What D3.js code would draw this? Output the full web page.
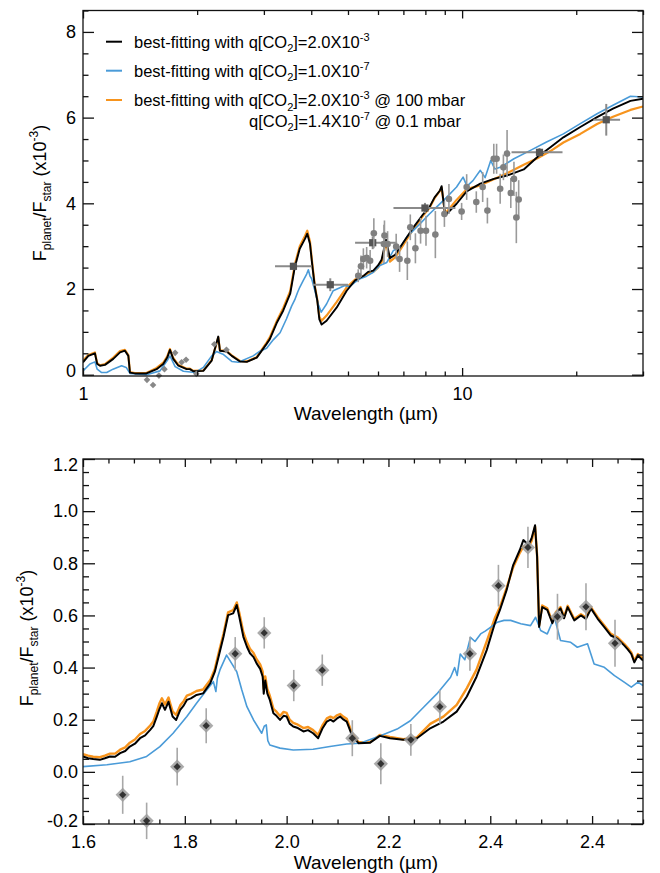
<!DOCTYPE html>
<html>
<head>
<meta charset="utf-8">
<script src="https://cdn.jsdelivr.net/npm/d3@7"></script>
<style>
  body { margin: 0; background: #fff; }
  svg text { font-family: "Liberation Sans", Arial, Helvetica, sans-serif; fill: #000; }
</style>
</head>
<body>
<svg id="chart" width="660" height="873"></svg>
<script>
// ---------- Upper panel: full 1–30 µm emission spectrum ----------
const topBlackWl = [1.0, 1.033, 1.075, 1.09, 1.109, 1.143, 1.202, 1.252, 1.29, 1.317, 1.33, 1.37, 1.47, 1.564, 1.628, 1.668, 1.696, 1.73, 1.785, 1.877, 1.914, 1.954, 2.077, 2.185, 2.274, 2.297, 2.394, 2.468, 2.595, 2.704, 2.873, 3.05, 3.11, 3.24, 3.375, 3.52, 3.62, 3.73, 3.85, 3.905, 3.97, 4.03, 4.09, 4.15, 4.2, 4.26, 4.39, 4.67, 4.96, 5.22, 5.5, 5.65, 5.83, 6.0, 6.13, 6.30, 6.45, 6.66, 6.87, 7.44, 7.9, 8.2, 8.46, 8.74, 8.83, 9.0, 9.1, 9.67, 10.28, 11.17, 12.12, 13.14, 14.54, 15.8, 17.1, 18.5, 20.5, 22.7, 25.0, 27.8, 30];
const topBlackFlux = [0.29, 0.44, 0.50, 0.25, 0.21, 0.23, 0.37, 0.52, 0.56, 0.44, 0.05, 0.03, 0.03, 0.13, 0.25, 0.40, 0.58, 0.37, 0.21, 0.13, 0.13, 0.08, 0.09, 0.33, 0.89, 0.56, 0.54, 0.44, 0.31, 0.30, 0.40, 0.72, 0.83, 1.20, 1.50, 1.89, 2.51, 2.94, 3.17, 3.29, 3.05, 2.51, 2.04, 1.73, 1.30, 1.17, 1.26, 1.57, 1.96, 2.20, 2.31, 2.40, 2.43, 2.55, 2.68, 3.15, 2.72, 2.80, 2.98, 3.44, 3.75, 3.91, 4.14, 4.30, 4.40, 3.79, 3.75, 3.99, 4.28, 4.46, 4.57, 4.65, 4.79, 5.08, 5.31, 5.54, 5.78, 6.01, 6.21, 6.39, 6.44];

const topOrangeWl = topBlackWl;
const topOrangeFlux = [0.33, 0.46, 0.52, 0.27, 0.22, 0.25, 0.40, 0.55, 0.58, 0.46, 0.06, 0.04, 0.04, 0.16, 0.28, 0.43, 0.60, 0.39, 0.23, 0.14, 0.14, 0.09, 0.10, 0.34, 0.87, 0.57, 0.55, 0.45, 0.32, 0.31, 0.41, 0.75, 0.87, 1.24, 1.56, 1.95, 2.57, 3.00, 3.24, 3.36, 3.10, 2.55, 2.06, 1.75, 1.36, 1.26, 1.38, 1.70, 2.04, 2.22, 2.30, 2.37, 2.40, 2.50, 2.62, 3.10, 2.64, 2.74, 2.92, 3.40, 3.72, 3.89, 4.12, 4.29, 4.36, 3.81, 3.80, 4.08, 4.33, 4.42, 4.56, 4.70, 4.90, 5.05, 5.22, 5.42, 5.62, 5.85, 6.02, 6.18, 6.26];

const topBlueWl = [1.0, 1.043, 1.075, 1.09, 1.12, 1.155, 1.2, 1.264, 1.30, 1.33, 1.47, 1.596, 1.668, 1.696, 1.75, 1.84, 1.974, 2.077, 2.185, 2.25, 2.34, 2.468, 2.57, 2.81, 2.93, 3.05, 3.18, 3.31, 3.44, 3.55, 3.62, 3.68, 3.73, 3.80, 3.89, 3.93, 3.97, 4.01, 4.09, 4.17, 4.25, 4.39, 4.57, 4.76, 4.9, 5.06, 5.2, 5.38, 5.6, 5.83, 6.07, 6.33, 6.59, 6.87, 7.14, 7.74, 8.2, 8.56, 9.1, 9.67, 10.06, 10.3, 10.68, 11.17, 11.5, 11.9, 12.2, 12.6, 13.7, 15.1, 16.7, 18.5, 20.5, 22.7, 25.0, 27.8, 30];
const topBlueFlux = [0.09, 0.25, 0.30, 0.13, 0.05, 0.05, 0.13, 0.21, 0.17, 0.03, 0.00, 0.09, 0.33, 0.44, 0.19, 0.08, 0.05, 0.17, 0.44, 0.54, 0.48, 0.31, 0.29, 0.44, 0.55, 0.62, 0.82, 0.98, 1.30, 1.60, 1.75, 1.92, 2.04, 2.18, 2.35, 2.45, 2.30, 2.24, 1.96, 1.65, 1.46, 1.65, 1.96, 2.03, 2.08, 2.06, 2.15, 2.24, 2.30, 2.39, 2.55, 2.62, 2.90, 2.97, 3.21, 3.52, 3.75, 3.91, 4.14, 4.38, 4.61, 4.40, 4.53, 4.77, 4.60, 5.00, 4.80, 4.84, 5.04, 5.23, 5.43, 5.62, 5.86, 6.09, 6.29, 6.50, 6.48];

// IRS spectrum points: wavelength, flux, 1-sigma error
const irsWl   = [5.32, 5.41, 5.49, 5.60, 5.72, 5.85, 6.22, 6.24, 6.36, 6.70, 6.84, 7.17, 7.30, 7.53, 7.77, 8.03, 8.50, 8.98, 9.23, 9.97, 10.28, 10.9, 11.33, 11.66, 12.12, 12.33, 12.6, 12.85, 13.14, 13.44, 13.7, 13.9, 14.1];
const irsFlux = [2.31, 2.53, 2.70, 2.73, 2.66, 3.30, 3.05, 3.25, 3.05, 2.99, 2.70, 2.66, 3.44, 2.95, 3.36, 3.36, 3.27, 3.75, 4.10, 3.81, 4.38, 4.03, 4.38, 3.83, 5.04, 5.04, 4.34, 4.84, 5.16, 4.24, 4.57, 3.67, 4.09];
const irsErr  = [0.15, 0.25, 0.25, 0.25, 0.25, 0.35, 0.45, 0.35, 0.30, 0.30, 0.30, 0.45, 0.30, 0.35, 0.30, 0.35, 0.55, 0.30, 0.35, 0.20, 0.30, 0.25, 0.35, 0.30, 0.35, 0.35, 0.35, 0.30, 0.55, 0.35, 0.40, 0.60, 0.45];

// Broadband photometry: centre, flux, band edges, error
const photWl   = [3.59, 4.49, 5.81, 7.98, 16.0, 24.0];
const photFlux = [2.53, 2.10, 3.08, 3.89, 5.19, 5.95];
const photLo   = [3.21, 4.04, 5.22, 6.59, 13.5, 22.2];
const photHi   = [4.01, 5.00, 6.74, 9.60, 18.4, 26.1];
const photErr  = [0.08, 0.15, 0.15, 0.12, 0.10, 0.37];

// Near-infrared spectrophotometry as placed on the upper panel
const nirTopWl   = [1.475, 1.53, 1.586, 1.64, 1.75, 1.82, 1.87, 1.99, 2.22, 2.39];
const nirTopFlux = [-0.12, -0.24, -0.02, 0.13, 0.51, 0.29, 0.35, 0.02, 0.71, 0.58];

const topXMajor = [1, 10];
const topXLabels = ["1", "10"];
const topXMinor = [2, 3, 4, 5, 6, 7, 8, 9, 20, 30];
const topYMajor = [0, 2, 4, 6, 8];
const topYMinor = [0.5, 1, 1.5, 2.5, 3, 3.5, 4.5, 5, 5.5, 6.5, 7, 7.5, 8.5];

// ---------- Lower panel: near-infrared detail ----------
const botBlackWl = [1.600, 1.610, 1.620, 1.633, 1.643, 1.653, 1.663, 1.673, 1.683, 1.692, 1.702, 1.712, 1.722, 1.732, 1.738, 1.745, 1.750, 1.755, 1.761, 1.768, 1.772, 1.776, 1.783, 1.791, 1.798, 1.804, 1.812, 1.823, 1.836, 1.850, 1.859, 1.868, 1.876, 1.885, 1.895, 1.902, 1.907, 1.915, 1.922, 1.928, 1.935, 1.941, 1.948, 1.953, 1.955, 1.958, 1.962, 1.967, 1.974, 1.980, 1.987, 1.994, 2.000, 2.006, 2.013, 2.022, 2.033, 2.042, 2.052, 2.062, 2.070, 2.079, 2.086, 2.092, 2.099, 2.105, 2.112, 2.118, 2.128, 2.141, 2.164, 2.183, 2.203, 2.229, 2.256, 2.282, 2.308, 2.334, 2.354, 2.373, 2.393, 2.409, 2.419, 2.432, 2.445, 2.458, 2.465, 2.475, 2.481, 2.488, 2.492, 2.496, 2.502, 2.512, 2.522, 2.529, 2.538, 2.545, 2.552, 2.565, 2.578, 2.588, 2.598, 2.611, 2.624, 2.637, 2.650, 2.663, 2.670, 2.677, 2.683, 2.690, 2.700];
const botBlackFlux = [0.059, 0.052, 0.049, 0.046, 0.052, 0.059, 0.058, 0.072, 0.080, 0.097, 0.108, 0.129, 0.140, 0.161, 0.175, 0.212, 0.240, 0.263, 0.238, 0.269, 0.240, 0.212, 0.199, 0.238, 0.255, 0.276, 0.282, 0.295, 0.301, 0.340, 0.384, 0.455, 0.518, 0.601, 0.608, 0.640, 0.595, 0.518, 0.480, 0.455, 0.440, 0.416, 0.395, 0.365, 0.300, 0.350, 0.301, 0.276, 0.225, 0.215, 0.199, 0.215, 0.212, 0.185, 0.174, 0.168, 0.155, 0.160, 0.148, 0.129, 0.165, 0.193, 0.200, 0.193, 0.205, 0.212, 0.200, 0.193, 0.142, 0.110, 0.112, 0.138, 0.129, 0.123, 0.129, 0.167, 0.193, 0.231, 0.289, 0.365, 0.467, 0.570, 0.621, 0.697, 0.793, 0.851, 0.889, 0.870, 0.895, 0.946, 0.825, 0.556, 0.632, 0.621, 0.570, 0.608, 0.627, 0.589, 0.632, 0.581, 0.600, 0.587, 0.626, 0.587, 0.555, 0.523, 0.510, 0.485, 0.470, 0.452, 0.420, 0.446, 0.427];

const botOrangeWl = botBlackWl;
const botOrangeFlux = [0.068, 0.062, 0.058, 0.056, 0.062, 0.070, 0.070, 0.085, 0.094, 0.112, 0.124, 0.145, 0.157, 0.178, 0.193, 0.232, 0.262, 0.282, 0.258, 0.285, 0.258, 0.232, 0.218, 0.255, 0.272, 0.292, 0.298, 0.310, 0.316, 0.352, 0.395, 0.468, 0.530, 0.612, 0.620, 0.650, 0.610, 0.535, 0.497, 0.472, 0.456, 0.432, 0.412, 0.384, 0.318, 0.366, 0.318, 0.292, 0.242, 0.231, 0.214, 0.230, 0.226, 0.200, 0.188, 0.181, 0.168, 0.172, 0.160, 0.142, 0.177, 0.205, 0.212, 0.206, 0.217, 0.222, 0.211, 0.204, 0.150, 0.114, 0.114, 0.142, 0.134, 0.125, 0.132, 0.184, 0.212, 0.257, 0.321, 0.392, 0.500, 0.590, 0.632, 0.705, 0.785, 0.840, 0.865, 0.862, 0.885, 0.940, 0.830, 0.562, 0.638, 0.627, 0.576, 0.613, 0.632, 0.594, 0.637, 0.586, 0.605, 0.592, 0.631, 0.593, 0.561, 0.529, 0.516, 0.491, 0.476, 0.458, 0.426, 0.452, 0.433];

const botBlueWl = [1.600, 1.647, 1.692, 1.725, 1.751, 1.777, 1.804, 1.823, 1.843, 1.856, 1.861, 1.864, 1.869, 1.882, 1.892, 1.902, 1.912, 1.922, 1.935, 1.951, 1.956, 1.960, 1.963, 1.967, 1.987, 2.013, 2.052, 2.085, 2.118, 2.144, 2.183, 2.217, 2.243, 2.269, 2.295, 2.322, 2.330, 2.335, 2.341, 2.350, 2.361, 2.370, 2.381, 2.390, 2.401, 2.414, 2.427, 2.440, 2.460, 2.479, 2.489, 2.499, 2.512, 2.526, 2.538, 2.558, 2.571, 2.591, 2.604, 2.624, 2.644, 2.663, 2.677, 2.690, 2.700];
const botBlueFlux = [0.020, 0.027, 0.039, 0.059, 0.097, 0.148, 0.212, 0.263, 0.314, 0.346, 0.308, 0.360, 0.391, 0.448, 0.416, 0.384, 0.314, 0.250, 0.199, 0.148, 0.175, 0.180, 0.120, 0.103, 0.091, 0.084, 0.087, 0.097, 0.107, 0.110, 0.138, 0.164, 0.196, 0.248, 0.299, 0.363, 0.400, 0.370, 0.452, 0.430, 0.516, 0.500, 0.529, 0.540, 0.555, 0.574, 0.581, 0.581, 0.568, 0.561, 0.593, 0.542, 0.529, 0.593, 0.504, 0.497, 0.478, 0.491, 0.414, 0.401, 0.369, 0.344, 0.325, 0.344, 0.331];

const nirWl   = [1.678, 1.725, 1.785, 1.842, 1.899, 1.956, 2.014, 2.070, 2.129, 2.185, 2.244, 2.301, 2.360, 2.416, 2.474, 2.532, 2.588, 2.645];
const nirFlux = [-0.088, -0.188, 0.020, 0.177, 0.453, 0.533, 0.331, 0.390, 0.129, 0.031, 0.123, 0.250, 0.453, 0.714, 0.861, 0.595, 0.633, 0.493];
const nirErr  = [0.073, 0.070, 0.072, 0.067, 0.064, 0.060, 0.060, 0.060, 0.069, 0.079, 0.061, 0.065, 0.065, 0.080, 0.079, 0.088, 0.090, 0.090];

const botXMajor = [1.6, 1.8, 2.0, 2.2, 2.4, 2.6];
const botXLabels = ["1.6", "1.8", "2.0", "2.2", "2.4", "2.4"];
const botYMajor = [-0.2, 0, 0.2, 0.4, 0.6, 0.8, 1.0, 1.2];

// ---------- Series styling ----------
const COLOR_BLACK = "#000000";
const COLOR_BLUE = "#4a9bd8";
const COLOR_ORANGE = "#f7941d";

const legendRows = [
  { color: COLOR_BLACK, parts: [["best-fitting with q[CO", ""], ["2", "sub"], ["]=2.0X10", ""], ["-3", "sup"]] },
  { color: COLOR_BLUE, parts: [["best-fitting with q[CO", ""], ["2", "sub"], ["]=1.0X10", ""], ["-7", "sup"]] },
  { color: COLOR_ORANGE, parts: [["best-fitting with q[CO", ""], ["2", "sub"], ["]=2.0X10", ""], ["-3", "sup"], [" @ 100 mbar", ""]] },
  { color: null, parts: [["q[CO", ""], ["2", "sub"], ["]=1.4X10", ""], ["-7", "sup"], [" @ 0.1 mbar", ""]] }
];

const svg = d3.select("#chart");

// Writes a sequence of [text, role] runs into a text element, with sub/superscripts
function richText(sel, parts, size) {
  const small = Math.round(size * 0.66);
  let shift = 0;
  parts.forEach(([str, role]) => {
    const target = role === "sub" ? size * 0.28 : role === "sup" ? -size * 0.42 : 0;
    sel.append("tspan")
      .attr("dy", target - shift)
      .attr("font-size", role ? small : size)
      .text(str);
    shift = target;
  });
}

function drawPanel(p) {
  const g = svg.append("g");
  const [x0, x1] = p.x.range();
  const [y0, y1] = p.y.range(); // y0 = bottom, y1 = top
  const clipId = "clip-" + p.id;
  svg.append("clipPath").attr("id", clipId)
    .append("rect").attr("x", x0).attr("y", y1).attr("width", x1 - x0).attr("height", y0 - y1);

  const line = d3.line().x(d => p.x(d[0])).y(d => p.y(d[1]));
  const curves = g.append("g").attr("clip-path", `url(#${clipId})`);
  p.series.forEach(s => {
    curves.append("path")
      .datum(d3.zip(s.wl, s.flux))
      .attr("d", line)
      .attr("fill", "none")
      .attr("stroke", s.color)
      .attr("stroke-width", s.width)
      .attr("stroke-linejoin", "round");
  });

  p.marks(g);

  // Frame and inward ticks on all four sides
  g.append("rect").attr("x", x0).attr("y", y1).attr("width", x1 - x0).attr("height", y0 - y1)
    .attr("fill", "none").attr("stroke", "#111").attr("stroke-width", 1.3);

  const styleAxis = sel => {
    sel.select(".domain").remove();
    sel.selectAll(".tick line").attr("stroke", "#111").attr("stroke-width", 1.3);
    sel.selectAll(".tick text").attr("font-size", 18).attr("fill", "#000")
      .attr("font-family", '"Liberation Sans", Arial, Helvetica, sans-serif');
  };

  g.append("g").attr("transform", `translate(0,${y0})`)
    .call(d3.axisBottom(p.x).tickValues(p.xMajor).tickSize(-p.xTickMajor)
      .tickPadding(p.xPad).tickFormat((d, i) => p.xLabels[i]))
    .call(styleAxis);
  g.append("g").attr("transform", `translate(0,${y0})`)
    .call(d3.axisBottom(p.x).tickValues(p.xMinor).tickSize(-p.xTickMinor).tickFormat(""))
    .call(styleAxis);
  g.append("g").attr("transform", `translate(0,${y1})`)
    .call(d3.axisTop(p.x).tickValues(p.xMajor).tickSize(-p.xTickMajor).tickFormat(""))
    .call(styleAxis);
  g.append("g").attr("transform", `translate(0,${y1})`)
    .call(d3.axisTop(p.x).tickValues(p.xMinor).tickSize(-p.xTickMinor).tickFormat(""))
    .call(styleAxis);

  const yl = g.append("g").attr("transform", `translate(${x0},0)`)
    .call(d3.axisLeft(p.y).tickValues(p.yMajor).tickSize(-p.yTickMajor)
      .tickPadding(p.yPad).tickFormat(p.yFormat))
    .call(styleAxis);
  yl.selectAll(".tick text").attr("dy", d => (0.32 * 18 + (p.yLabelShift[d] || 0)) + "px");
  g.append("g").attr("transform", `translate(${x0},0)`)
    .call(d3.axisLeft(p.y).tickValues(p.yMinor).tickSize(-p.yTickMinor).tickFormat(""))
    .call(styleAxis);
  g.append("g").attr("transform", `translate(${x1},0)`)
    .call(d3.axisRight(p.y).tickValues(p.yMajor).tickSize(-p.yTickMajor).tickFormat(""))
    .call(styleAxis);
  g.append("g").attr("transform", `translate(${x1},0)`)
    .call(d3.axisRight(p.y).tickValues(p.yMinor).tickSize(-p.yTickMinor).tickFormat(""))
    .call(styleAxis);

  // Axis titles
  g.append("text").attr("x", p.xTitlePos[0]).attr("y", p.xTitlePos[1])
    .attr("text-anchor", "middle").attr("font-size", 19).text("Wavelength (\u00b5m)");
  const yt = g.append("text")
    .attr("transform", `translate(${p.yTitlePos[0]},${p.yTitlePos[1]}) rotate(-90)`)
    .attr("text-anchor", "middle").attr("font-size", 18);
  richText(yt, [["F", ""], ["planet", "sub"], ["/F", ""], ["star", "sub"], [" (x10", ""], ["-3", "sup"], [")", ""]], 18);
}

// ---------- Upper panel ----------
const xTop = d3.scaleLog().domain([1, 30]).range([83, 643]);
const yTop = d3.scaleLinear().domain([-0.03, 8.5]).range([376, 10.5]);

drawPanel({
  id: "top", x: xTop, y: yTop,
  series: [
    { wl: topOrangeWl, flux: topOrangeFlux, color: COLOR_ORANGE, width: 2.2 },
    { wl: topBlueWl, flux: topBlueFlux, color: COLOR_BLUE, width: 1.6 },
    { wl: topBlackWl, flux: topBlackFlux, color: COLOR_BLACK, width: 1.9 }
  ],
  xMajor: topXMajor, xLabels: topXLabels, xMinor: topXMinor,
  yMajor: topYMajor, yMinor: topYMinor, yFormat: d => String(d),
  yLabelShift: { 0: -4 },
  xTickMajor: 8, xTickMinor: 4.5, yTickMajor: 11, yTickMinor: 5.5,
  xPad: 11, yPad: 7,
  xTitlePos: [366, 420], yTitlePos: [46, 193],
  marks: g => {
    // photometric band widths and errors
    const ph = g.append("g");
    photWl.forEach((w, i) => {
      ph.append("line").attr("x1", xTop(photLo[i])).attr("x2", xTop(photHi[i]))
        .attr("y1", yTop(photFlux[i])).attr("y2", yTop(photFlux[i]))
        .attr("stroke", "#8a8a8a").attr("stroke-width", 2);
      ph.append("line").attr("x1", xTop(w)).attr("x2", xTop(w))
        .attr("y1", yTop(photFlux[i] - photErr[i])).attr("y2", yTop(photFlux[i] + photErr[i]))
        .attr("stroke", "#8a8a8a").attr("stroke-width", 2);
    });
    // IRS error bars and points
    const irs = g.append("g");
    irsWl.forEach((w, i) => {
      irs.append("line").attr("x1", xTop(w)).attr("x2", xTop(w))
        .attr("y1", yTop(irsFlux[i] - irsErr[i])).attr("y2", yTop(irsFlux[i] + irsErr[i]))
        .attr("stroke", "#9a9a9a").attr("stroke-width", 1.6);
    });
    irsWl.forEach((w, i) => {
      irs.append("circle").attr("cx", xTop(w)).attr("cy", yTop(irsFlux[i])).attr("r", 3.3)
        .attr("fill", "#808080");
    });
    photWl.forEach((w, i) => {
      ph.append("rect").attr("x", xTop(w) - 3.6).attr("y", yTop(photFlux[i]) - 3.6)
        .attr("width", 7.2).attr("height", 7.2).attr("fill", "#555");
    });
    // near-IR points as small diamonds
    const sym = d3.symbol().type(d3.symbolDiamond2).size(28);
    nirTopWl.forEach((w, i) => {
      g.append("path").attr("d", sym)
        .attr("transform", `translate(${xTop(w)},${yTop(nirTopFlux[i])})`)
        .attr("fill", "#888");
    });
  }
});

// legend
const legend = svg.append("g");
legendRows.forEach((r, i) => {
  const cy = [41.7, 70.7, 100, 120.5][i];
  if (r.color) {
    legend.append("line").attr("x1", 106).attr("x2", 122).attr("y1", cy).attr("y2", cy)
      .attr("stroke", r.color).attr("stroke-width", 2);
  }
  const t = legend.append("text").attr("x", r.color ? 134 : 249).attr("y", cy + 6).attr("font-size", 16.5);
  richText(t, r.parts, 16.5);
});

// ---------- Lower panel ----------
const xBot = d3.scaleLinear().domain([1.6, 2.7]).range([83, 643]);
const yBot = d3.scaleLinear().domain([-0.2, 1.2]).range([824, 459]);

drawPanel({
  id: "bot", x: xBot, y: yBot,
  series: [
    { wl: botOrangeWl, flux: botOrangeFlux, color: COLOR_ORANGE, width: 2.4 },
    { wl: botBlueWl, flux: botBlueFlux, color: COLOR_BLUE, width: 1.6 },
    { wl: botBlackWl, flux: botBlackFlux, color: COLOR_BLACK, width: 2 }
  ],
  xMajor: botXMajor, xLabels: botXLabels,
  xMinor: d3.range(1.65, 2.7, 0.05).filter(v => Math.abs(v * 5 - Math.round(v * 5)) > 1e-6),
  yMajor: botYMajor,
  yMinor: d3.range(-0.15, 1.2, 0.05).filter(v => Math.abs(v * 5 - Math.round(v * 5)) > 1e-6),
  yFormat: d => d.toFixed(1),
  yLabelShift: { "1.2": 6, "-0.2": -3 },
  xTickMajor: 8, xTickMinor: 4.5, yTickMajor: 12, yTickMinor: 6,
  xPad: 11, yPad: 5,
  xTitlePos: [366, 869], yTitlePos: [33, 638],
  marks: g => {
    nirWl.forEach((w, i) => {
      g.append("line").attr("x1", xBot(w)).attr("x2", xBot(w))
        .attr("y1", yBot(nirFlux[i] - nirErr[i])).attr("y2", yBot(nirFlux[i] + nirErr[i]))
        .attr("stroke", "#a8a8a8").attr("stroke-width", 1.6);
    });
    const outer = d3.symbol().type(d3.symbolDiamond2).size(130);
    const inner = d3.symbol().type(d3.symbolDiamond2).size(34);
    nirWl.forEach((w, i) => {
      const tr = `translate(${xBot(w)},${yBot(nirFlux[i])})`;
      g.append("path").attr("d", outer).attr("transform", tr).attr("fill", "#9c9c9c").attr("opacity", 0.85);
      g.append("path").attr("d", inner).attr("transform", tr).attr("fill", "#333");
    });
  }
});
</script>
</body>
</html>
